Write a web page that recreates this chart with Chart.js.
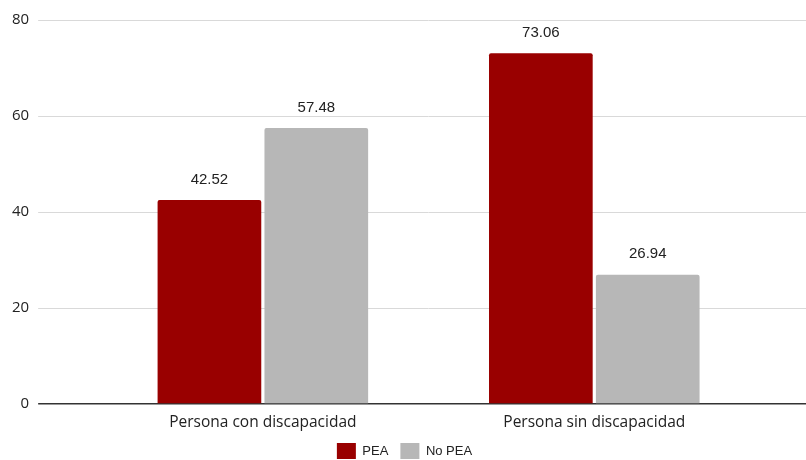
<!DOCTYPE html>
<html>
<head>
<meta charset="utf-8">
<script src="https://cdn.jsdelivr.net/npm/chart.js@4/dist/chart.umd.min.js"></script>
<style>
    html, body { margin: 0; padding: 0; background: #fff; }
    #wrap { width: 806px; height: 460px; }
</style>
</head>
<body>
<div id="wrap"><canvas id="chart"></canvas></div>
<script>
var categories = ['Persona con discapacidad', 'Persona sin discapacidad'];
var peaValues = [42.52, 73.06];
var noPeaValues = [57.48, 26.94];
var seriesNames = ['PEA', 'No PEA'];
var seriesColors = ['#990000', '#b7b7b7'];
var yTicks = [0, 20, 40, 60, 80];

var gridColor = function(ctx) {
    return ctx.tick && ctx.tick.value === 0 ? '#333333' : '#d9d9d9';
};
var gridWidth = function(ctx) {
    return ctx.tick && ctx.tick.value === 0 ? 1.5 : 1;
};

// value labels above each bar
var valueLabels = {
    id: 'valueLabels',
    afterDatasetsDraw: function(chart) {
        var ctx = chart.ctx;
        ctx.save();
        ctx.font = '15px "Liberation Sans", Arial, sans-serif';
        ctx.fillStyle = '#222222';
        ctx.textAlign = 'center';
        ctx.textBaseline = 'bottom';
        chart.data.datasets.forEach(function(ds, i) {
            chart.getDatasetMeta(i).data.forEach(function(bar, j) {
                ctx.fillText(ds.data[j].toFixed(2), bar.x, bar.y - 13);
            });
        });
        ctx.restore();
    }
};

var chart = new Chart(document.getElementById('chart'), {
    type: 'bar',
    data: {
        labels: categories,
        datasets: [{
            label: seriesNames[0],
            data: peaValues,
            backgroundColor: seriesColors[0],
            borderRadius: 2,
            borderSkipped: 'bottom'
        }, {
            label: seriesNames[1],
            data: noPeaValues,
            backgroundColor: seriesColors[1],
            borderRadius: 2,
            borderSkipped: 'bottom'
        }]
    },
    options: {
        responsive: true,
        maintainAspectRatio: false,
        animation: false,
        datasets: {
            bar: { categoryPercentage: 0.645, barPercentage: 0.97 }
        },
        layout: { padding: { left: 3, right: 0, top: 20, bottom: -9 } },
        plugins: {
            legend: {
                position: 'bottom',
                labels: {
                    boxWidth: 19,
                    boxHeight: 16,
                    padding: 12,
                    color: '#222222',
                    font: { family: '"Liberation Sans", Arial, sans-serif', size: 13 }
                }
            },
            tooltip: { enabled: false }
        },
        scales: {
            x: {
                grid: { display: false, drawTicks: false },
                border: { display: false },
                afterFit: function(axis) { axis.height = 27; },
                ticks: {
                    color: '#222222',
                    padding: 9,
                    font: { family: '"Open Sans", sans-serif', size: 15.5 }
                }
            },
            y: {
                min: 0,
                max: 80,
                afterBuildTicks: function(axis) {
                    axis.ticks = yTicks.map(function(v) { return { value: v }; });
                },
                grid: { color: gridColor, lineWidth: gridWidth, tickLength: 59 },
                border: { display: false },
                ticks: {
                    color: '#222222',
                    padding: 9,
                    font: { family: '"Open Sans", sans-serif', size: 15 }
                }
            },
            y2: {
                position: 'right',
                min: 0,
                max: 80,
                afterBuildTicks: function(axis) {
                    axis.ticks = yTicks.map(function(v) { return { value: v }; });
                },
                grid: { color: gridColor, lineWidth: gridWidth, tickLength: 46, drawOnChartArea: false },
                border: { display: false },
                ticks: { display: false }
            }
        }
    },
    plugins: [valueLabels]
});
</script>
</body>
</html>
